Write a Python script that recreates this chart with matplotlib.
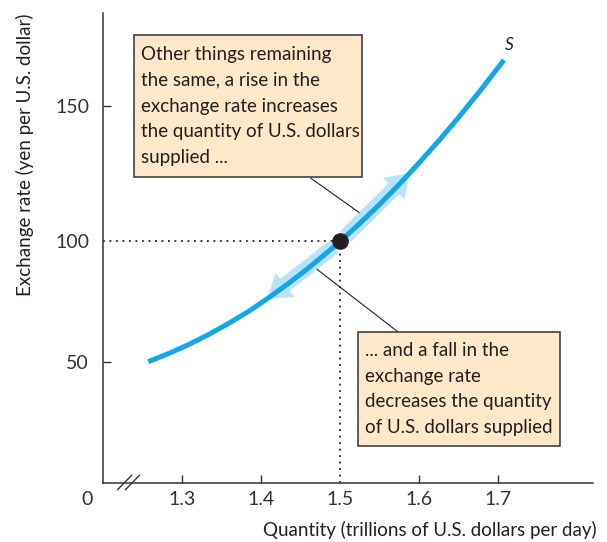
import numpy as np
import matplotlib
matplotlib.use("Agg")
import matplotlib.pyplot as plt
from matplotlib.patches import Rectangle, FancyArrowPatch

# ---- data ----
quantity = [1.2573, 1.2838, 1.3091, 1.3344, 1.3597, 1.3850, 1.4102, 1.4355, 1.4608, 1.4861,
            1.5000, 1.5240, 1.5493, 1.5746, 1.5999, 1.6252, 1.6504, 1.6757, 1.7073]
rate = [50.2, 53.7, 57.4, 61.6, 66.2, 71.2, 76.8, 82.8, 89.2, 96.1,
        100.0, 106.4, 113.5, 121.0, 129.0, 137.3, 146.0, 155.1, 167.0]
eq_q, eq_r = 1.5, 100
x_ticks = [1.3, 1.4, 1.5, 1.6, 1.7]
x_ticklabels = ["1.3", "1.4", "1.5", "1.6", "1.7"]
y_ticks = [50, 100, 150]
y_ticklabels = ["50", "100", "150"]
upper_text = ("Other things remaining\nthe same, a rise in the\nexchange rate increases\n"
              "the quantity of U.S. dollars\nsupplied ...")
lower_text = "... and a fall in the\nexchange rate\ndecreases the quantity\nof U.S. dollars supplied"

FONT = ["Lato", "DejaVu Sans"]
plt.rcParams['font.family'] = FONT

BLUE = "#14a7e6"
LIGHT = "#b9e3f8"
BOXFILL = "#fde9c9"
DARK = "#231f20"

fig = plt.figure(figsize=(6.07, 5.42), dpi=100)
ax = fig.add_axes([103/607, 1-483/542, 490/607, 470/542])

# piecewise-linear vertical scale (as drawn in the reference)
kv = [-1000, 0, 100, 150, 1000]
kp = [-2410, 0, 241, 376, 376 + 850*2.7]
ax.set_yscale('function', functions=(lambda v: np.interp(v, kv, kp),
                                     lambda p: np.interp(p, kp, kv)))
ax.set_xlim(1.2, 1.82)
ax.set_ylim(0, 184.4)

for s in ["top", "right"]:
    ax.spines[s].set_visible(False)
for s in ["left", "bottom"]:
    ax.spines[s].set_color("#333333")
    ax.spines[s].set_linewidth(1.1)

ax.set_xticks(x_ticks)
ax.set_xticklabels(x_ticklabels)
ax.set_yticks(y_ticks)
ax.set_yticklabels(y_ticklabels)
ax.tick_params(axis='x', direction='in', length=6, width=1.0, color="#333333",
               pad=6, labelsize=14, labelcolor="#333333")
ax.tick_params(axis='y', direction='in', length=6, width=1.0, color="#333333",
               pad=10, labelsize=14, labelcolor="#333333")
ax.xaxis.get_major_ticks()[2].tick1line.set_visible(False)
ax.yaxis.get_major_ticks()[1].tick1line.set_visible(False)
ax.minorticks_off()

# dotted guide lines
ax.plot([1.2, eq_q], [eq_r, eq_r], color=DARK, lw=1.3, linestyle=(0, (1, 2.6)), zorder=2)
ax.plot([eq_q, eq_q], [0, eq_r], color=DARK, lw=1.3, linestyle=(0, (1, 2.6)), zorder=2)

# arrows along the curve
def on_curve(q):
    return float(np.interp(q, quantity, rate))

for q0, q1 in [(1.507, 1.588), (1.493, 1.408)]:
    arr = FancyArrowPatch((q0, on_curve(q0)), (q1, on_curve(q1)),
                          arrowstyle="simple,head_length=16,head_width=22,tail_width=11",
                          color=LIGHT, lw=0, zorder=3, mutation_scale=1,
                          shrinkA=0, shrinkB=0)
    ax.add_patch(arr)

# supply curve
ax.plot(quantity, rate, color=BLUE, lw=3.6, solid_capstyle='butt',
        solid_joinstyle='round', zorder=4)
ax.plot([eq_q], [eq_r], 'o', color=DARK, ms=11, zorder=6)
ax.text(1.714, 172.6, "S", fontsize=12.5, style='italic', color=DARK, ha='center', va='center')

# leader lines
ax.plot([1.4633, 1.524], [123.3, 110.7], color=DARK, lw=0.8, zorder=3)
ax.plot([1.471, 1.5746], [88.4, 62.2], color=DARK, lw=0.8, zorder=3)

# annotation boxes
def box(x0, y0, x1, y1, tx, ty, txt):
    ax.add_patch(Rectangle((x0, y0), x1 - x0, y1 - y0, transform=ax.transAxes,
                           facecolor=BOXFILL, edgecolor="#333333", lw=1.1, zorder=7,
                           clip_on=False))
    ax.text(tx, ty, txt, transform=ax.transAxes, ha='left', va='center', fontsize=13.5,
            color=DARK, linespacing=1.64, zorder=8)

box(0.0633, 0.6511, 0.5286, 0.9532, 0.0776, 0.8021, upper_text)
box(0.5204, 0.0787, 0.9327, 0.3213, 0.5347, 0.2, lower_text)

# axis break marks
for dx in (0.0, 0.016):
    ax.plot([0.030 + dx, 0.058 + dx], [-0.014, 0.016], transform=ax.transAxes,
            color="#333333", lw=1.0, clip_on=False, zorder=9)

# origin and axis labels
ax.text(-0.033, -0.036, "0", transform=ax.transAxes, ha='center', va='center',
        fontsize=14, color="#333333")
fig.text(597/607, 1-530/542, "Quantity (trillions of U.S. dollars per day)", ha='right',
         va='center', fontsize=13.5, color=DARK)
fig.text(25/607, 1-155/542, "Exchange rate (yen per U.S. dollar)", rotation=90,
         ha='center', va='center', fontsize=13.5, color=DARK)

fig.savefig("out.png", dpi=100)
